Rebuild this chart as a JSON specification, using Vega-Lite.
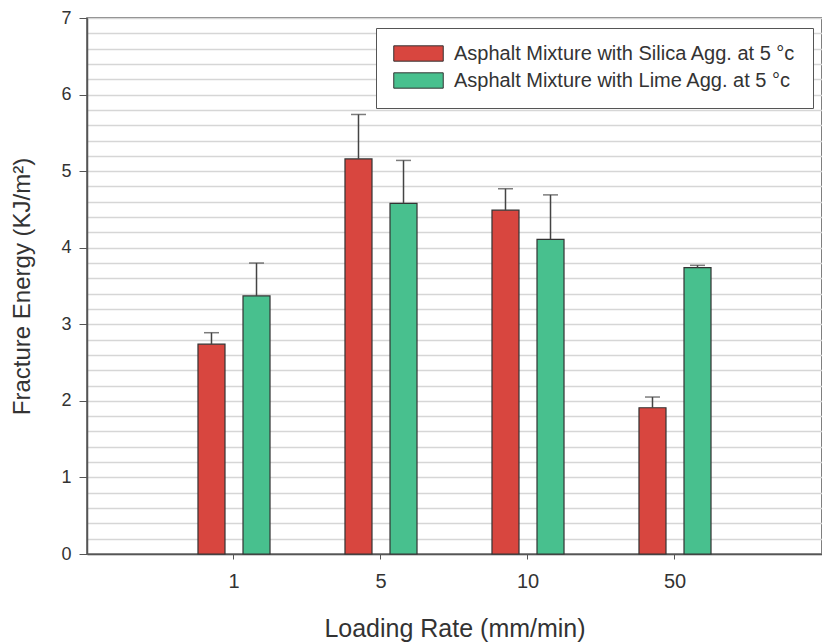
{
  "$schema": "https://vega.github.io/schema/vega-lite/v6.json",
  "width": 735,
  "height": 536,
  "autosize": {"type": "none"},
  "padding": {"left": 87, "top": 18, "right": 0, "bottom": 89},
  "background": "white",
  "config": {
    "font": "Liberation Sans",
    "view": {"stroke": "#555", "strokeWidth": 1.5}
  },
  "data": {
    "values": [
      {"rate": "1", "mix": "Asphalt Mixture with Silica Agg. at 5 °c", "value": 2.74, "upper": 2.89},
      {"rate": "1", "mix": "Asphalt Mixture with Lime Agg. at 5 °c", "value": 3.37, "upper": 3.80},
      {"rate": "5", "mix": "Asphalt Mixture with Silica Agg. at 5 °c", "value": 5.16, "upper": 5.74},
      {"rate": "5", "mix": "Asphalt Mixture with Lime Agg. at 5 °c", "value": 4.58, "upper": 5.14},
      {"rate": "10", "mix": "Asphalt Mixture with Silica Agg. at 5 °c", "value": 4.49, "upper": 4.77},
      {"rate": "10", "mix": "Asphalt Mixture with Lime Agg. at 5 °c", "value": 4.11, "upper": 4.69},
      {"rate": "50", "mix": "Asphalt Mixture with Silica Agg. at 5 °c", "value": 1.91, "upper": 2.05},
      {"rate": "50", "mix": "Asphalt Mixture with Lime Agg. at 5 °c", "value": 3.74, "upper": 3.77}
    ]
  },
  "encoding": {
    "x": {
      "field": "rate", "type": "nominal", "sort": ["1", "5", "10", "50"],
      "scale": {"paddingInner": 0.51, "paddingOuter": 0.755},
      "axis": {
        "title": "Loading Rate (mm/min)", "labelAngle": 0, "labelFontSize": 20, "labelColor": "#333",
        "labelPadding": 12, "tickSize": 5, "tickColor": "#555", "domainColor": "#555", "domainWidth": 1.5,
        "titleFontSize": 25, "titleFontWeight": "normal", "titleColor": "#333", "titlePadding": 25
      }
    },
    "xOffset": {
      "field": "mix", "type": "nominal",
      "sort": ["Asphalt Mixture with Silica Agg. at 5 °c", "Asphalt Mixture with Lime Agg. at 5 °c"],
      "scale": {"paddingInner": 0.4, "paddingOuter": 0}
    }
  },
  "layer": [
    {
      "mark": {"type": "bar", "stroke": "#333", "strokeWidth": 1.2},
      "encoding": {
        "y": {
          "field": "value", "type": "quantitative",
          "scale": {"domain": [0, 7], "nice": false},
          "axis": {
            "title": "Fracture Energy (KJ/m²)",
            "values": [0, 0.2, 0.4, 0.6, 0.8, 1, 1.2, 1.4, 1.6, 1.8, 2, 2.2, 2.4, 2.6, 2.8, 3, 3.2, 3.4, 3.6, 3.8, 4, 4.2, 4.4, 4.6, 4.8, 5, 5.2, 5.4, 5.6, 5.8, 6, 6.2, 6.4, 6.6, 6.8, 7],
            "tickCount": 100,
            "labelOverlap": false,
            "labelExpr": "datum.value % 1 === 0 ? format(datum.value, 'd') : ''",
            "labelFontSize": 18, "labelColor": "#333", "labelPadding": 8,
            "tickSize": 8, "tickColor": "#555",
            "tickOpacity": {"condition": {"test": "datum.value % 1 === 0", "value": 1}, "value": 0},
            "domainColor": "#555", "domainWidth": 1.5,
            "titleFontSize": 24, "titleFontWeight": "normal", "titleColor": "#333", "titlePadding": 26,
            "grid": true, "gridColor": "#d6d6d6", "gridWidth": 1.5
          }
        },
        "color": {
          "field": "mix", "type": "nominal",
          "sort": ["Asphalt Mixture with Silica Agg. at 5 °c", "Asphalt Mixture with Lime Agg. at 5 °c"],
          "scale": {"range": ["#d8463f", "#48c08e"]},
          "legend": {
            "title": null, "orient": "none", "legendX": 289, "legendY": 10,
            "fillColor": "white", "strokeColor": "#555", "padding": 17,
            "symbolType": "M-1,-0.31H1V0.31H-1Z", "symbolSize": 2450, "clipHeight": 17,
            "symbolStrokeColor": "#333", "symbolStrokeWidth": 1, "symbolOpacity": 1,
            "labelFontSize": 20, "labelColor": "#333", "labelLimit": 500, "labelOffset": 10,
            "rowPadding": 6
          }
        }
      }
    },
    {
      "mark": {"type": "rule", "stroke": "#444", "strokeWidth": 1.5},
      "encoding": {
        "y": {"field": "value", "type": "quantitative"},
        "y2": {"field": "upper"}
      }
    },
    {
      "mark": {"type": "tick", "color": "#444", "thickness": 1.5, "size": 15, "orient": "horizontal"},
      "encoding": {
        "y": {"field": "upper", "type": "quantitative"}
      }
    }
  ]
}
